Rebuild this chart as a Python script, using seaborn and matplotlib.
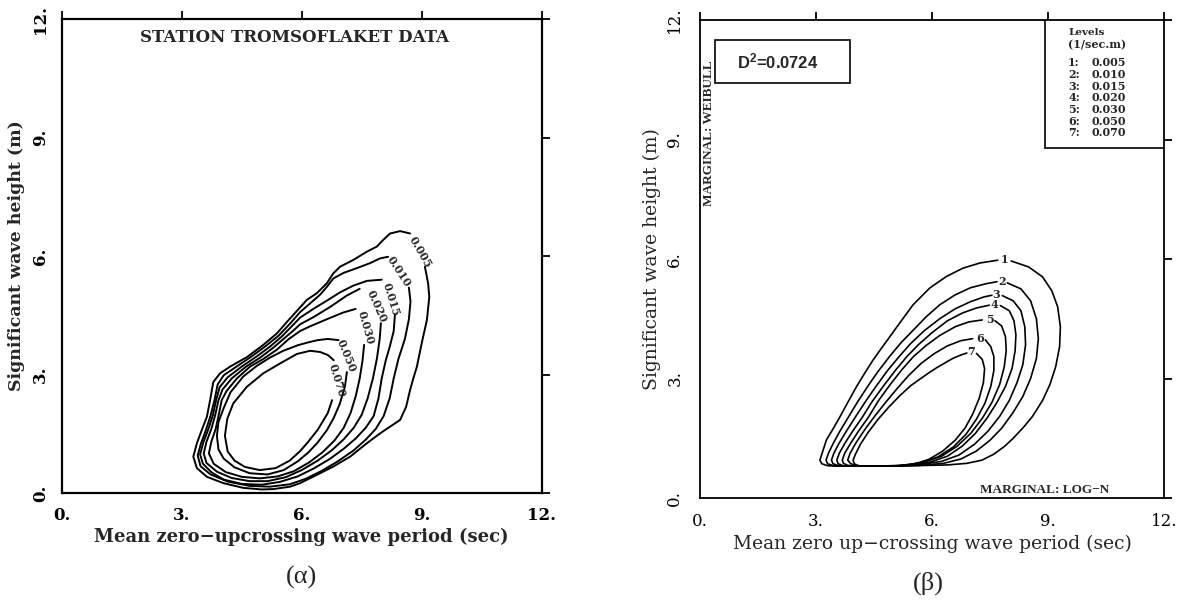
import numpy as np
import pandas as pd
import matplotlib
matplotlib.use("Agg")
import matplotlib.pyplot as plt
import seaborn as sns

# ---------------- (a) observed contours, Tromsoflaket data (T in s, Hs in m) ----------------
a005_T = [9.08,9.16,9.19,9.13,9.00,8.88,8.79,8.71,8.61,8.46,8.21,7.96,7.63,7.21,6.79,6.38,5.96,5.71,5.30,5.00,4.54,4.04,3.63,3.38,3.29,3.38,3.50,3.63,3.71,3.79,3.96,4.21,4.63,5.04,5.38,5.63,5.96,6.13,6.38,6.63,6.79,6.96,7.29,7.63,7.88,8.04,8.21,8.46,8.71]
a005_H = [5.73,5.31,4.97,4.38,3.79,3.20,2.90,2.61,2.18,1.85,1.68,1.51,1.26,0.92,0.67,0.46,0.25,0.16,0.10,0.09,0.13,0.25,0.41,0.63,0.92,1.26,1.59,1.93,2.35,2.81,3.03,3.20,3.44,3.75,4.04,4.33,4.70,4.89,5.06,5.31,5.56,5.73,5.90,6.11,6.24,6.41,6.57,6.63,6.57]
a010_T = [8.68,8.72,8.68,8.58,8.42,8.30,8.20,8.05,7.85,7.60,7.30,6.90,6.50,6.10,5.70,5.20,4.70,4.15,3.72,3.47,3.40,3.48,3.60,3.72,3.82,3.90,4.05,4.37,4.75,5.10,5.42,5.72,5.96,6.21,6.46,6.63,6.79,7.04,7.37,7.71,7.96,8.16]
a010_H = [5.20,4.85,4.40,3.90,3.40,2.90,2.40,1.95,1.62,1.35,1.08,0.80,0.56,0.36,0.22,0.16,0.18,0.29,0.47,0.68,0.95,1.25,1.58,1.95,2.35,2.75,2.98,3.20,3.46,3.72,3.98,4.30,4.58,4.80,5.02,5.22,5.43,5.57,5.69,5.82,5.94,5.98]
a015_T = [8.33,8.30,8.20,8.10,8.00,7.92,7.80,7.60,7.35,7.05,6.70,6.30,5.90,5.45,5.00,4.50,4.05,3.75,3.53,3.46,3.54,3.66,3.78,3.86,3.95,4.15,4.50,4.85,5.20,5.50,5.78,5.96,6.29,6.63,6.96,7.29,7.63,8.00]
a015_H = [4.50,4.10,3.70,3.35,2.90,2.40,1.95,1.65,1.38,1.12,0.86,0.62,0.42,0.28,0.21,0.23,0.34,0.52,0.74,0.98,1.28,1.60,1.97,2.35,2.68,2.93,3.20,3.44,3.70,3.96,4.25,4.44,4.66,4.87,5.08,5.25,5.37,5.40]
a020_T = [7.98,7.95,7.88,7.78,7.65,7.50,7.30,7.05,6.75,6.40,6.00,5.60,5.15,4.70,4.25,3.88,3.62,3.55,3.62,3.74,3.84,3.92,4.02,4.25,4.61,4.95,5.28,5.58,5.80,5.96,6.29,6.71,7.13,7.45]
a020_H = [4.30,3.90,3.40,2.90,2.40,1.98,1.65,1.36,1.08,0.82,0.58,0.40,0.30,0.30,0.38,0.54,0.76,1.00,1.30,1.62,1.98,2.35,2.62,2.90,3.20,3.42,3.67,3.93,4.12,4.27,4.45,4.71,5.00,5.17]
a030_T = [7.56,7.52,7.45,7.35,7.22,7.05,6.82,6.52,6.18,5.80,5.40,4.95,4.50,4.10,3.80,3.68,3.74,3.85,3.93,4.00,4.12,4.38,4.71,5.05,5.38,5.68,5.96,6.21,6.63,7.04,7.35]
a030_H = [3.75,3.35,2.90,2.45,2.02,1.65,1.33,1.03,0.77,0.55,0.42,0.37,0.41,0.53,0.74,1.00,1.30,1.62,2.00,2.35,2.58,2.90,3.20,3.40,3.63,3.90,4.10,4.22,4.40,4.57,4.66]
a050_T = [7.13,7.08,6.95,6.80,6.63,6.40,6.18,5.90,5.55,5.15,4.70,4.32,4.05,3.92,3.88,3.92,4.05,4.22,4.54,4.88,5.21,5.54,5.90,6.15,6.40,6.65,6.92]
a050_H = [3.06,2.69,2.25,1.90,1.59,1.28,1.04,0.80,0.58,0.47,0.50,0.65,0.87,1.10,1.45,1.80,2.15,2.55,2.95,3.22,3.43,3.60,3.74,3.81,3.87,3.90,3.87]
a070_T = [6.76,6.65,6.40,6.15,5.96,5.70,5.35,4.95,4.58,4.32,4.15,4.08,4.14,4.29,4.63,5.04,5.46,5.88,6.21,6.46,6.66,6.80]
a070_H = [2.35,2.02,1.60,1.28,1.06,0.82,0.63,0.58,0.66,0.82,1.05,1.45,1.88,2.27,2.69,3.03,3.28,3.52,3.60,3.57,3.49,3.36]
levels_a = ["0.005", "0.010", "0.015", "0.020", "0.030", "0.050", "0.070"]
label_pos_a_T = [8.96, 8.43, 8.23, 7.87, 7.60, 7.11, 6.88]
label_pos_a_H = [6.10, 5.62, 4.89, 4.73, 4.19, 3.47, 2.86]

# ---------------- (b) fitted model contours (Weibull / log-normal) ----------------
b1_T = [8.05,8.50,8.86,9.10,9.25,9.32,9.30,9.20,9.05,8.86,8.60,8.37,8.10,7.88,7.60,7.29,6.90,6.40,5.50,4.50,3.60,3.30,3.15,3.10,3.15,3.27,3.45,3.62,3.85,4.05,4.27,4.48,4.70,4.91,5.17,5.51,5.94,6.37,6.80,7.24,7.70]
b1_H = [5.95,5.80,5.55,5.20,4.80,4.30,3.80,3.30,2.85,2.45,2.05,1.78,1.50,1.30,1.10,0.95,0.87,0.83,0.81,0.80,0.80,0.81,0.86,0.95,1.10,1.46,1.75,2.04,2.45,2.80,3.15,3.47,3.77,4.05,4.40,4.85,5.27,5.56,5.77,5.90,5.97]
b2_T = [7.95,8.30,8.55,8.70,8.75,8.70,8.55,8.35,8.10,7.80,7.50,7.15,6.75,6.30,5.70,5.00,4.00,3.45,3.30,3.26,3.32,3.45,3.62,3.85,4.10,4.35,4.60,4.90,5.20,5.50,5.85,6.20,6.60,7.00,7.40,7.68]
b2_H = [5.40,5.25,4.95,4.50,4.00,3.50,3.00,2.55,2.15,1.75,1.45,1.18,0.98,0.87,0.82,0.80,0.80,0.81,0.86,0.95,1.12,1.38,1.68,2.05,2.45,2.82,3.17,3.55,3.90,4.20,4.55,4.85,5.10,5.28,5.38,5.43]
b3_T = [7.82,8.10,8.30,8.40,8.42,8.35,8.20,8.00,7.75,7.45,7.10,6.70,6.25,5.70,5.00,4.00,3.58,3.44,3.40,3.46,3.60,3.80,4.05,4.30,4.55,4.85,5.15,5.45,5.80,6.20,6.60,7.00,7.35,7.55]
b3_H = [5.08,4.95,4.70,4.30,3.85,3.35,2.90,2.45,2.05,1.68,1.35,1.08,0.92,0.84,0.80,0.80,0.81,0.86,0.95,1.12,1.38,1.70,2.08,2.45,2.80,3.20,3.55,3.88,4.20,4.50,4.75,4.93,5.05,5.09]
b4_T = [7.77,8.00,8.12,8.17,8.15,8.07,7.90,7.68,7.42,7.12,6.78,6.40,5.95,5.40,4.80,4.10,3.70,3.57,3.54,3.60,3.75,3.95,4.20,4.45,4.75,5.05,5.35,5.65,6.00,6.40,6.80,7.15,7.48]
b4_H = [4.83,4.70,4.45,4.10,3.70,3.25,2.80,2.40,2.00,1.62,1.30,1.05,0.90,0.82,0.80,0.80,0.81,0.86,0.95,1.12,1.38,1.68,2.03,2.42,2.82,3.20,3.55,3.85,4.15,4.45,4.65,4.77,4.84]
b5_T = [7.63,7.80,7.90,7.92,7.87,7.75,7.55,7.30,7.00,6.65,6.25,5.80,5.25,4.60,4.00,3.82,3.71,3.68,3.74,3.90,4.10,4.35,4.62,4.92,5.22,5.52,5.85,6.20,6.60,6.95,7.30]
b5_H = [4.45,4.32,4.05,3.70,3.30,2.85,2.40,2.00,1.62,1.30,1.05,0.90,0.82,0.80,0.80,0.82,0.87,0.95,1.12,1.38,1.68,2.02,2.45,2.85,3.22,3.55,3.83,4.08,4.30,4.42,4.47]
b6_T = [7.38,7.52,7.60,7.60,7.52,7.37,7.15,6.88,6.55,6.15,5.70,5.15,4.50,4.05,3.90,3.82,3.88,4.03,4.25,4.50,4.80,5.10,5.40,5.72,6.05,6.40,6.75,7.05]
b6_H = [3.97,3.80,3.55,3.20,2.80,2.38,1.98,1.60,1.28,1.03,0.88,0.81,0.80,0.81,0.86,0.95,1.12,1.38,1.70,2.03,2.40,2.75,3.08,3.38,3.62,3.82,3.95,4.00]
b7_T = [7.15,7.30,7.36,7.33,7.22,7.05,6.85,6.60,6.28,5.92,5.50,5.00,4.40,4.10,3.99,3.96,4.02,4.15,4.35,4.60,4.88,5.17,5.45,5.68,5.90,6.12,6.35,6.55,6.75,6.90]
b7_H = [3.63,3.48,3.25,2.90,2.50,2.10,1.75,1.45,1.18,0.97,0.84,0.80,0.80,0.81,0.86,0.95,1.10,1.35,1.65,1.97,2.28,2.57,2.82,2.98,3.13,3.27,3.40,3.51,3.59,3.64]
levels_b = ["1", "2", "3", "4", "5", "6", "7"]
level_values_b = ["0.005", "0.010", "0.015", "0.020", "0.030", "0.050", "0.070"]
label_pos_b_T = [7.88, 7.80, 7.67, 7.62, 7.49, 7.24, 7.02]
label_pos_b_H = [5.98, 5.43, 5.10, 4.85, 4.47, 4.01, 3.68]
d2_value = "0.0724"

ticks = [0, 3, 6, 9, 12]
tick_labels = ["0.", "3.", "6.", "9.", "12."]

# ---------------- build tables ----------------
def make_table(Ts, Hs, names):
    frames = []
    for T, H, n in zip(Ts, Hs, names):
        frames.append(pd.DataFrame({"T": T, "H": H, "level": n, "i": np.arange(len(T))}))
    return pd.concat(frames, ignore_index=True)

df_a = make_table([a005_T, a010_T, a015_T, a020_T, a030_T, a050_T, a070_T],
                  [a005_H, a010_H, a015_H, a020_H, a030_H, a050_H, a070_H], levels_a)
df_b = make_table([b1_T, b2_T, b3_T, b4_T, b5_T, b6_T, b7_T],
                  [b1_H, b2_H, b3_H, b4_H, b5_H, b6_H, b7_H], levels_b)

sns.set_style("white")
plt.rcParams["font.family"] = ["DejaVu Serif", "DejaVu Sans"]
plt.rcParams["mathtext.fontset"] = "custom"
plt.rcParams["mathtext.bf"] = "Liberation Sans:bold"
plt.rcParams["mathtext.rm"] = "Liberation Sans:bold"

W, Hh = 1186, 601
fig = plt.figure(figsize=(W / 100, Hh / 100), dpi=100)
fig.patch.set_facecolor("white")

axA = fig.add_axes([61.7 / W, (Hh - 493) / Hh, 480 / W, 474 / Hh])
axB = fig.add_axes([700 / W, (Hh - 498) / Hh, 464 / W, 478 / Hh])

sns.lineplot(data=df_a, x="T", y="H", units="level", estimator=None, sort=False,
             color="black", lw=1.4, ax=axA, legend=False)
sns.lineplot(data=df_b, x="T", y="H", units="level", estimator=None, sort=False,
             color="black", lw=1.2, ax=axB, legend=False)

def style_axes(ax, bold, spine_w, fs):
    ax.set_xlim(0, 12)
    ax.set_ylim(0, 12)
    ax.set_xticks(ticks)
    ax.set_yticks(ticks)
    w = "bold" if bold else "normal"
    ax.set_xticklabels(tick_labels, fontsize=fs, fontweight=w)
    ax.set_yticklabels(tick_labels, fontsize=fs, fontweight=w, rotation=90, va="center")
    ax.tick_params(direction="out", length=6, width=1.3, top=True, right=True,
                   labeltop=False, labelright=False, colors="black")
    for s in ax.spines.values():
        s.set_visible(True)
        s.set_linewidth(spine_w)
        s.set_color("black")
    ax.set_facecolor("white")

style_axes(axA, True, 1.6, 12)
axA.tick_params(axis="x", pad=4)
axA.tick_params(axis="y", pad=3)
axA.set_xlabel("Mean zero\u2212upcrossing wave period (sec)", fontsize=13, fontweight="bold", labelpad=3)
axA.set_ylabel("Significant wave height (m)", fontsize=12.5, fontweight="bold", labelpad=5)
axA.text(5.83, 11.54, "STATION TROMSOFLAKET DATA", ha="center", va="center",
         fontsize=12, fontweight="bold")
rot_a = [-60, -57, -73, -66, -74, -68, -73]
for name, tx, hy, r in zip(levels_a, label_pos_a_T, label_pos_a_H, rot_a):
    axA.text(tx, hy, name, ha="center", va="center", rotation=r, fontsize=8,
             fontweight="bold", rotation_mode="anchor")

style_axes(axB, False, 1.3, 12)
axB.tick_params(axis="x", pad=5)
axB.tick_params(axis="y", pad=6)
axB.set_xlabel("Mean zero up\u2212crossing wave period (sec)", fontsize=13.5, labelpad=3)
axB.set_ylabel("Significant wave height (m)", fontsize=13.5, labelpad=4)
for name, tx, hy in zip(levels_b, label_pos_b_T, label_pos_b_H):
    axB.text(tx, hy, name, ha="center", va="center", fontsize=8, fontweight="bold")

# D^2 box
axB.add_patch(plt.Rectangle((0.39, 10.43), 3.49, 1.08, fill=False, lw=1.2, ec="black"))
axB.text(2.02, 10.95, r"$\mathbf{D^2}$=" + d2_value, ha="center", va="center",
         fontsize=12, fontweight="bold", family="Liberation Sans")

# levels legend box
axB.plot([8.91, 8.91], [12, 8.79], color="black", lw=1.2)
axB.plot([8.91, 12], [8.79, 8.79], color="black", lw=1.2)
axB.text(9.52, 11.68, "Levels", ha="left", va="center", fontsize=7.5, fontweight="heavy")
axB.text(9.52, 11.38, "(1/sec.m)", ha="left", va="center", fontsize=8, fontweight="bold")
for k, (n, v) in enumerate(zip(levels_b, level_values_b)):
    yy = 10.93 - 0.294 * k
    axB.text(9.52, yy, n + ":", ha="left", va="center", fontsize=8, fontweight="bold")
    axB.text(10.13, yy, v, ha="left", va="center", fontsize=8, fontweight="bold")

axB.text(0.24, 9.17, "MARGINAL: WEIBULL", rotation=90, ha="center", va="center",
         fontsize=9.5, fontweight="bold", family="Liberation Serif")
axB.text(8.91, 0.2, "MARGINAL: LOG\u2212N", ha="center", va="center",
         fontsize=9.5, fontweight="bold", family="Liberation Serif")

fig.text(302 / W, 1 - 577 / Hh, "(\u03b1)", ha="center", va="center", fontsize=19,
         family="Liberation Serif")
fig.text(928.5 / W, 1 - 583 / Hh, "(\u03b2)", ha="center", va="center", fontsize=19,
         family="Liberation Serif")

fig.savefig("out.png", dpi=100, facecolor="white")
